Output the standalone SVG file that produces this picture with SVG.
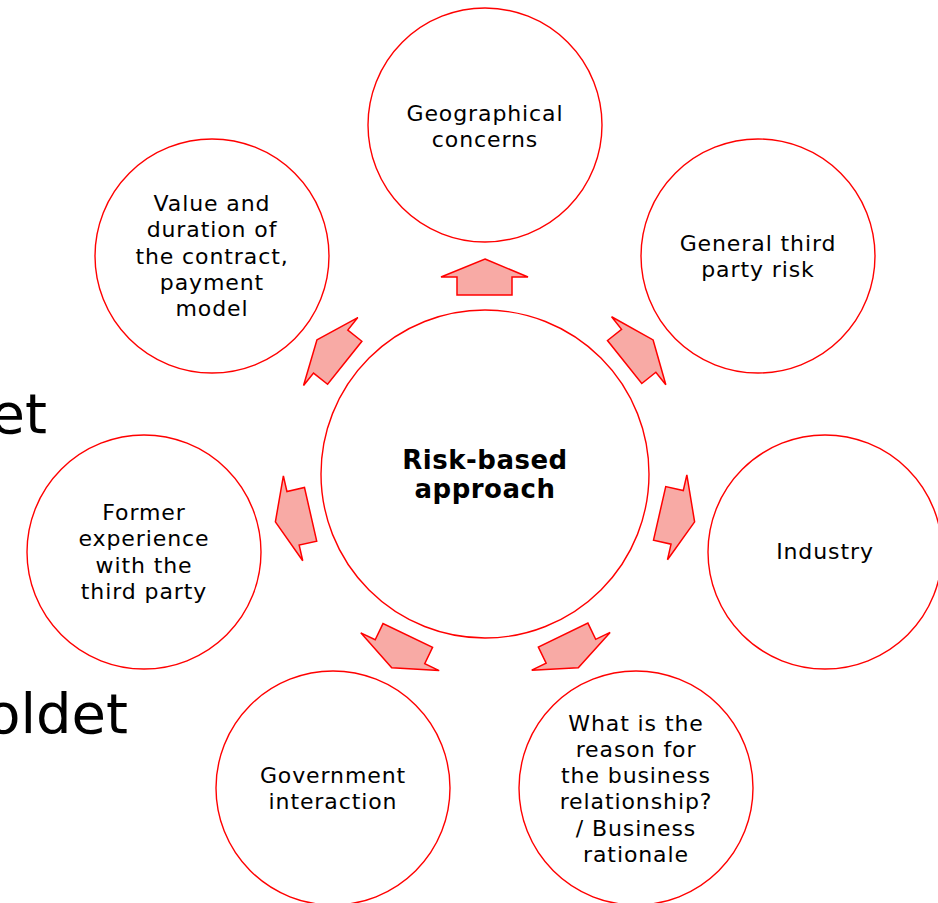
<svg xmlns="http://www.w3.org/2000/svg" xmlns:xlink="http://www.w3.org/1999/xlink" width="938" height="903" viewBox="0 0 938 903">
<style>
.c{fill:#fff;stroke:#ff0000;stroke-width:1.4}
.a{fill:#f8aaa5;stroke:#ff0000;stroke-width:1.5;stroke-linejoin:miter}
.t{font-family:"DejaVu Sans","Verdana",sans-serif;font-size:22px;letter-spacing:0.9px;fill:#000;text-anchor:middle}
.b{font-family:"DejaVu Sans","Verdana",sans-serif;font-size:26px;font-weight:bold;letter-spacing:0.5px;fill:#000;text-anchor:middle}
.bg{font-family:"DejaVu Sans",sans-serif;font-size:56px;fill:#000;text-anchor:end}
</style>
<defs>
<polygon id="arr" class="a" points="485,259 528,277 512,277 512,295 457,295 457,277 441,277"/>
</defs>
<rect width="938" height="903" fill="#fff"/>
<text class="bg" x="47" y="433">et</text>
<text class="bg" x="128" y="733">oldet</text>
<g id="connectors">
<use xlink:href="#arr"/>
<use xlink:href="#arr" transform="rotate(51.4286 485 474)"/>
<use xlink:href="#arr" transform="rotate(102.857 485 474)"/>
<use xlink:href="#arr" transform="rotate(154.286 485 474)"/>
<use xlink:href="#arr" transform="rotate(205.714 485 474)"/>
<use xlink:href="#arr" transform="rotate(257.143 485 474)"/>
<use xlink:href="#arr" transform="rotate(308.571 485 474)"/>
</g>
<g id="center">
<circle class="c" cx="485" cy="474" r="164"/>
<text class="b" x="485" y="469">Risk-based</text>
<text class="b" x="485" y="498">approach</text>
</g>
<g id="geo">
<circle class="c" cx="485" cy="125" r="117"/>
<text class="t" x="485" y="121">Geographical</text>
<text class="t" x="485" y="147">concerns</text>
</g>
<g id="general">
<circle class="c" cx="758" cy="256" r="117"/>
<text class="t" x="758" y="251">General third</text>
<text class="t" x="758" y="277">party risk</text>
</g>
<g id="industry">
<circle class="c" cx="825" cy="552" r="117"/>
<text class="t" x="825" y="559">Industry</text>
</g>
<g id="rationale">
<circle class="c" cx="636" cy="788" r="117"/>
<text class="t" x="636" y="731">What is the</text>
<text class="t" x="636" y="757">reason for</text>
<text class="t" x="636" y="783">the business</text>
<text class="t" x="636" y="809">relationship?</text>
<text class="t" x="636" y="836">/ Business</text>
<text class="t" x="636" y="862">rationale</text>
</g>
<g id="government">
<circle class="c" cx="333" cy="788" r="117"/>
<text class="t" x="333" y="783">Government</text>
<text class="t" x="333" y="809">interaction</text>
</g>
<g id="former">
<circle class="c" cx="144" cy="552" r="117"/>
<text class="t" x="144" y="520">Former</text>
<text class="t" x="144" y="546">experience</text>
<text class="t" x="144" y="573">with the</text>
<text class="t" x="144" y="599">third party</text>
</g>
<g id="value">
<circle class="c" cx="212" cy="256" r="117"/>
<text class="t" x="212" y="211">Value and</text>
<text class="t" x="212" y="237">duration of</text>
<text class="t" x="212" y="264">the contract,</text>
<text class="t" x="212" y="290">payment</text>
<text class="t" x="212" y="316">model</text>
</g>
</svg>
